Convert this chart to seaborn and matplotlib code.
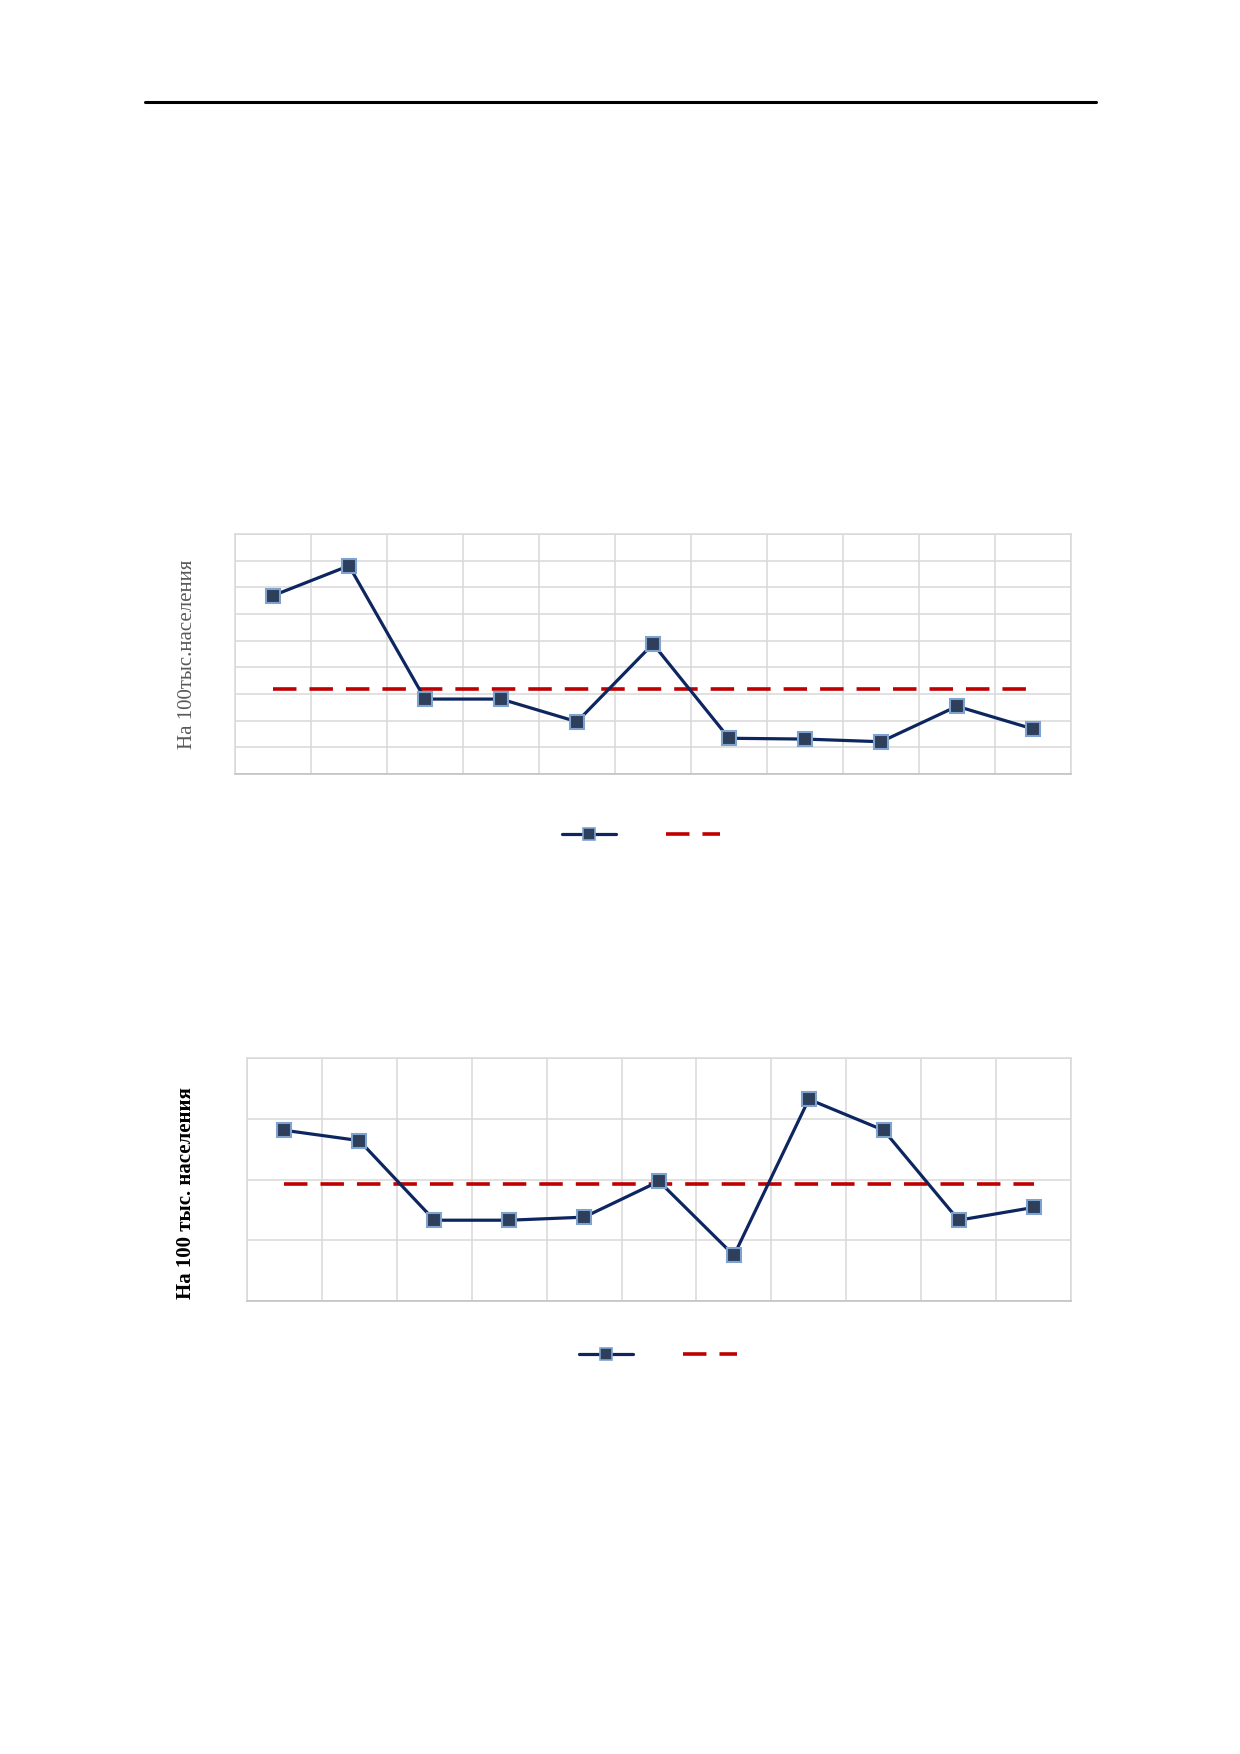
import numpy as np
import pandas as pd
import matplotlib
matplotlib.use("Agg")
import matplotlib.pyplot as plt
import seaborn as sns
from matplotlib.lines import Line2D

# ---- data ----
categories = list(range(1, 12))
series1_values = [6.69, 7.81, 2.81, 2.81, 1.96, 4.88, 1.34, 1.31, 1.21, 2.54, 1.69]
series1_ymax = 9
series2_values = [2.81, 2.64, 1.33, 1.33, 1.38, 1.97, 0.75, 3.32, 2.81, 1.33, 1.54]
series2_ymax = 4
ylabel1 = "На 100тыс.населения"
ylabel2 = "На 100 тыс. населения"

sns.set_theme(style="white")
plt.rcParams['font.family'] = ['Liberation Serif', 'DejaVu Serif']

W, H = 1240, 1754
fig = plt.figure(figsize=(W / 100, H / 100), dpi=100)

NAVY = "#0e2660"
MFACE = "#2e3f5c"
MEDGE = "#7fa3cf"
RED = "#c00000"
GRID = "#d9d9d9"


def px_axes(x0, y0, x1, y1):
    return fig.add_axes([x0 / W, 1 - y1 / H, (x1 - x0) / W, (y1 - y0) / H])


def draw_chart(ax, values, ymax):
    n = len(values)
    df = pd.DataFrame({"x": np.arange(n), "y": values})
    mean = float(np.mean(values))
    sns.lineplot(data=df, x="x", y="y", ax=ax, color=NAVY, lw=2.3,
                 marker="s", markersize=10.5, markerfacecolor=MFACE,
                 markeredgecolor=MEDGE, markeredgewidth=1.5, zorder=4)
    dfm = pd.DataFrame({"x": [0, n - 1], "y": [mean, mean]})
    sns.lineplot(data=dfm, x="x", y="y", ax=ax, color=RED, lw=2.6,
                 dashes=False, zorder=3).lines[-1].set_dashes((6.5, 3.6))
    ax.set_xlim(-0.5, n - 0.5)
    ax.set_ylim(0, ymax)
    ax.set_xticks(np.arange(-0.5, n, 1.0))
    ax.set_yticks(np.arange(0, ymax + 0.01, 1))
    ax.grid(True, color=GRID, lw=1.1)
    ax.tick_params(length=0, labelleft=False, labelbottom=False)
    ax.set_xlabel("")
    ax.set_ylabel("")
    for s in ax.spines.values():
        s.set_color(GRID)
        s.set_linewidth(1.1)
    ax.spines["bottom"].set_color("#bfbfbf")


def legend_at(cx, cy):
    h1 = Line2D([], [], color=NAVY, lw=2.3, marker="s", markersize=8,
                markerfacecolor=MFACE, markeredgecolor=MEDGE, markeredgewidth=1.2)
    h2 = Line2D([], [], color=RED, lw=2.6, dashes=(6.5, 3.6))
    fig.legend([h1, h2], ["", ""], loc="center", bbox_to_anchor=(cx / W, 1 - cy / H),
               ncol=2, frameon=False, handlelength=3.5, columnspacing=3.3,
               handletextpad=0.0)


# top rule
fig.add_artist(Line2D([145 / W, 1096 / W], [1 - 102 / H, 1 - 102 / H],
                      color="black", lw=2.2))

ax1 = px_axes(235, 534, 1071, 774)
draw_chart(ax1, series1_values, series1_ymax)
fig.text(187 / W, 1 - 654 / H, ylabel1, rotation=90, ha="center", va="center",
         fontsize=15, color="#595959")
legend_at(641, 835)

ax2 = px_axes(247, 1058, 1071, 1301)
draw_chart(ax2, series2_values, series2_ymax)
fig.text(186 / W, 1 - 1193 / H, ylabel2, rotation=90, ha="center", va="center",
         fontsize=15, fontweight="bold", color="black")
legend_at(658, 1355)

fig.savefig("out.png", dpi=100, facecolor="white")
